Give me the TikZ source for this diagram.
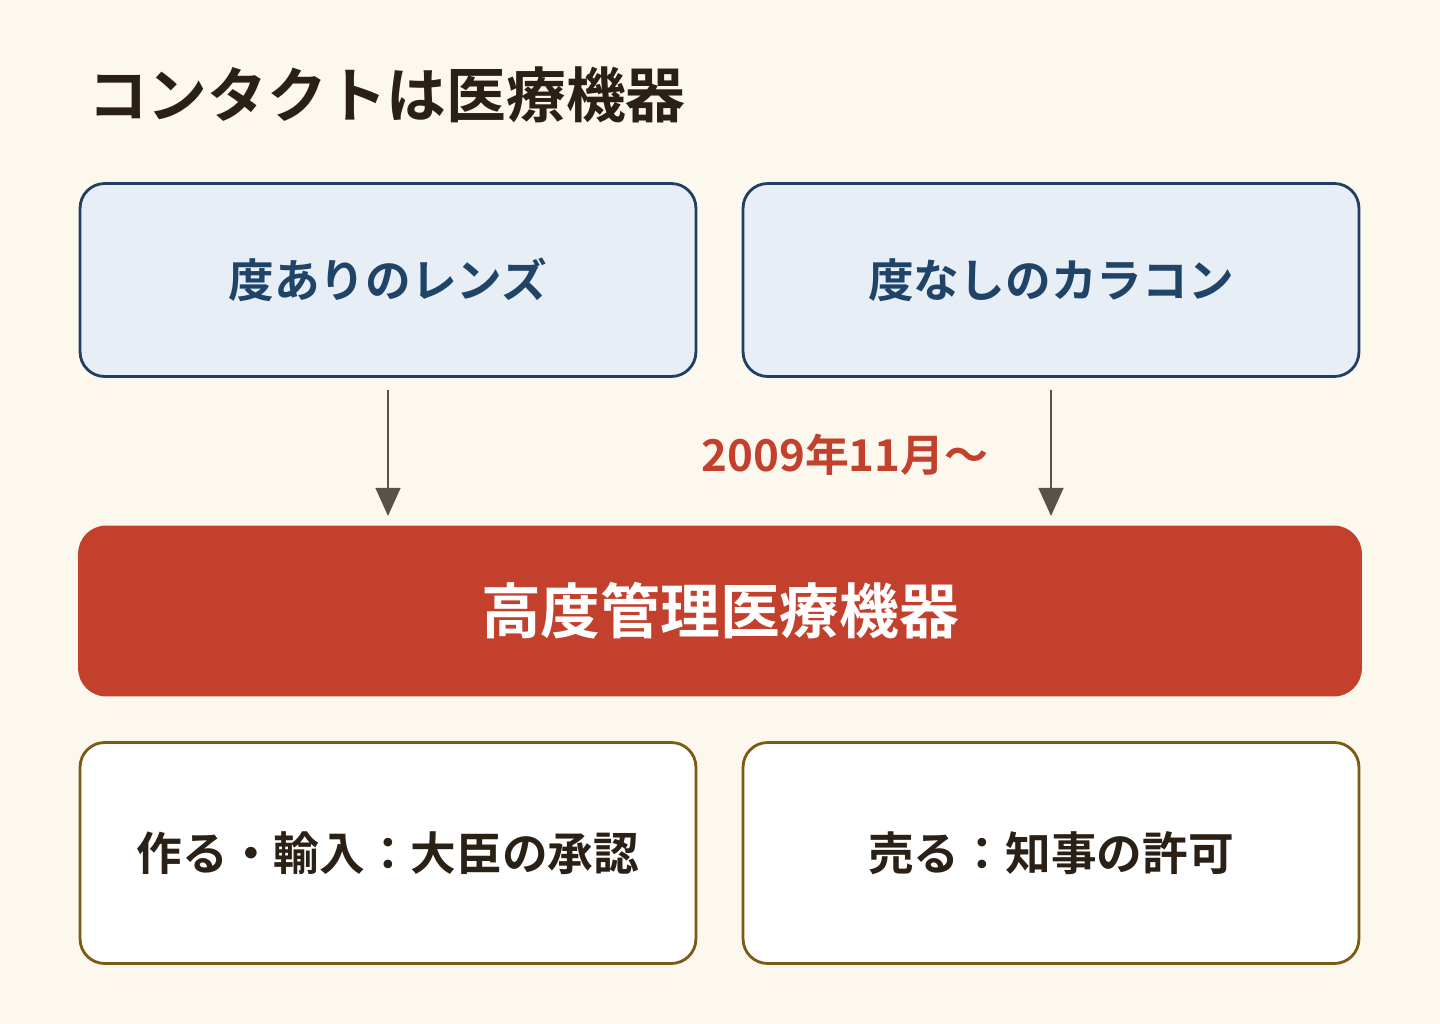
\documentclass[tikz,border=0pt]{standalone}
\usepackage{fontspec}
\setmainfont{Noto Sans CJK JP}
\newfontfamily\jpbold{Noto Sans CJK JP Bold}
\definecolor{bg}{HTML}{FCF8EE}
\definecolor{lb}{HTML}{E8EEF5}
\definecolor{db}{HTML}{1F3F63}
\definecolor{tb}{HTML}{1F4468}
\definecolor{rd}{HTML}{C3402D}
\definecolor{ar}{HTML}{5A5248}
\definecolor{br}{HTML}{7A5A14}
\definecolor{tx}{HTML}{2A2016}
\usetikzlibrary{arrows.meta}
\begin{document}
\begin{tikzpicture}[
      x=0.02cm, y=-0.02cm,
      every node/.style={font=\jpbold},
      kind/.style={draw=db, line width=1.6pt, fill=lb, rounded corners=14pt,
        minimum width=12.32cm, minimum height=3.86cm, text=tb, font=\jpbold\fontsize{26}{30}\selectfont},
      rule/.style={draw=br, line width=1.6pt, fill=white, rounded corners=14pt,
        minimum width=12.32cm, minimum height=4.42cm, text=tx, font=\jpbold\fontsize{26}{30}\selectfont},
      flow/.style={draw=ar, line width=1.6pt, -{Triangle[length=16pt,width=14pt]}}]
        \fill[bg] (0,0) rectangle (1440,1024);

        \node[anchor=west, text=tx, font=\jpbold\fontsize{34}{40}\selectfont] (title) at (82,95) {コンタクトは医療機器};

        \node[kind] (lens) at (388,280) {度ありのレンズ};
        \node[kind] (color) at (1051,280) {度なしのカラコン};

        \node[fill=rd, rounded corners=16pt, minimum width=25.68cm, minimum height=3.42cm,
          text=white, font=\jpbold\fontsize{34}{40}\selectfont] (class) at (720,611) {高度管理医療機器};

        \coordinate (lensin) at (388,516);
        \coordinate (colorin) at (1051,516);
        \draw[flow] (lens.south) ++(0,12) -- (lensin);
        \draw[flow] (color.south) ++(0,12) -- (colorin);
        \node[text=rd, font=\jpbold\fontsize{25}{30}\selectfont] (date) at (845,455) {2009年11月〜};

        \node[rule] (make) at (388,853) {作る・輸入：大臣の承認};
        \node[rule] (sell) at (1051,853) {売る：知事の許可};

      \end{tikzpicture}
\end{document}
